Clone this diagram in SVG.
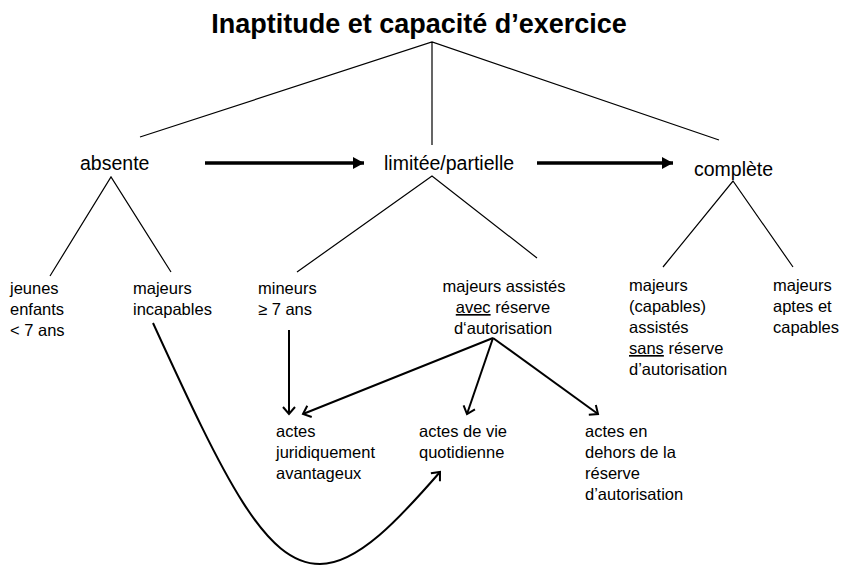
<svg xmlns="http://www.w3.org/2000/svg" width="844" height="565" viewBox="0 0 844 565">
<defs>
<style>
text{font-family:"Liberation Sans",Arial,sans-serif;fill:#000;}
.t{font-size:27px;font-weight:bold;}
.l1{font-size:19.5px;}
.l2{font-size:16.5px;}
.thin{stroke:#000;stroke-width:1.2;fill:none;}
.thick{stroke:#000;stroke-width:3.5;fill:none;}
.arr{stroke:#000;stroke-width:2;fill:none;}
</style>
<marker id="tri" markerWidth="12" markerHeight="12" refX="11" refY="6" orient="auto" markerUnits="userSpaceOnUse">
<path d="M0,0 L11,6 L0,12 Z" fill="#000"/>
</marker>
<marker id="vee" markerWidth="16" markerHeight="16" refX="8" refY="8" orient="auto" markerUnits="userSpaceOnUse">
<path d="M1,2 L8,8 L1,14" fill="none" stroke="#000" stroke-width="2"/>
</marker>
</defs>
<rect width="844" height="565" fill="#fff"/>
<g id="title"><text class="t" x="419" y="33" text-anchor="middle">Inaptitude et capacité d’exercice</text></g>
<g id="absente"><text class="l1" x="80" y="170">absente</text></g>
<g id="limitee"><text class="l1" x="384" y="170">limitée/partielle</text></g>
<g id="complete"><text class="l1" x="694" y="176">complète</text></g>
<g id="jeunes" class="l2"><text class="l2" x="10" y="294">jeunes</text><text class="l2" x="10" y="315">enfants</text><text class="l2" x="10" y="336">&lt; 7 ans</text></g>
<g id="majeurs-incapables"><text class="l2" x="133" y="294">majeurs</text><text class="l2" x="133" y="315">incapables</text></g>
<g id="mineurs"><text class="l2" x="258" y="294">mineurs</text><text class="l2" x="258" y="315">≥ 7 ans</text></g>
<g id="majeurs-assistes-avec"><text class="l2" x="504" y="292" text-anchor="middle">majeurs assistés</text><text class="l2" x="503" y="313" text-anchor="middle"><tspan text-decoration="underline">avec</tspan> réserve</text><text class="l2" x="503" y="334" text-anchor="middle">d‘autorisation</text></g>
<g id="majeurs-assistes-sans"><text class="l2" x="629" y="291">majeurs</text><text class="l2" x="629" y="312">(capables)</text><text class="l2" x="629" y="333">assistés</text><text class="l2" x="629" y="354"><tspan text-decoration="underline">sans</tspan> réserve</text><text class="l2" x="629" y="375">d’autorisation</text></g>
<g id="majeurs-aptes"><text class="l2" x="773" y="291">majeurs</text><text class="l2" x="773" y="312">aptes et</text><text class="l2" x="773" y="333">capables</text></g>
<g id="actes-jur"><text class="l2" x="276" y="437">actes</text><text class="l2" x="276" y="458">juridiquement</text><text class="l2" x="276" y="479">avantageux</text></g>
<g id="actes-vie"><text class="l2" x="419" y="437">actes de vie</text><text class="l2" x="419" y="458">quotidienne</text></g>
<g id="actes-dehors"><text class="l2" x="585" y="437">actes en</text><text class="l2" x="585" y="458">dehors de la</text><text class="l2" x="585" y="479">réserve</text><text class="l2" x="585" y="500">d’autorisation</text></g>
<g id="connectors">
<path class="thin" d="M140,137 L432,42 L719,140 M432,42 L432,145"/>
<path class="thin" d="M50,276 L111,177 L171,272"/>
<path class="thin" d="M297,272 L432,176 L537,258"/>
<path class="thin" d="M663,267 L733,181 L793,267"/>
<path class="thick" d="M205,163 L364,163" marker-end="url(#tri)"/>
<path class="thick" d="M537,163 L673,163" marker-end="url(#tri)"/>
<path class="arr" d="M289,330 L289,414" marker-end="url(#vee)"/>
<path class="arr" d="M493,338 L303,414" marker-end="url(#vee)"/>
<path class="arr" d="M493,338 L467,414" marker-end="url(#vee)"/>
<path class="arr" d="M493,338 L598,414" marker-end="url(#vee)"/>
<path class="arr" d="M153,323 C225,480 265,564 320,564 C358,564 400,518 440,472" marker-end="url(#vee)"/>
</g>
</svg>
